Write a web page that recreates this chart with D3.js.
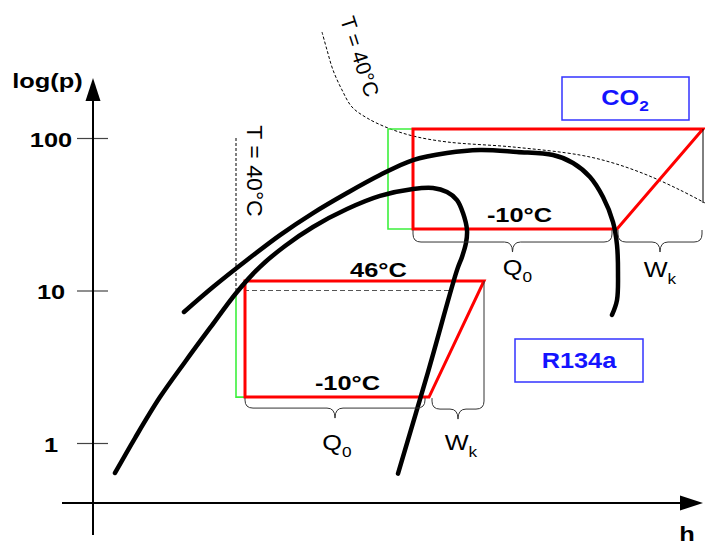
<!DOCTYPE html>
<html><head><meta charset="utf-8">
<script src="https://cdn.jsdelivr.net/npm/d3@7"></script>
<style>body{margin:0;background:#fff}svg{display:block}</style>
</head><body>
<svg id="c" width="705" height="551"></svg>
<script>
// ---------------- data ----------------
const tickValues = [1, 10, 100];
// R134a saturation dome (h, p)
const r134aDomeH = [22, 42, 67, 92, 117, 144, 167, 192, 220, 254, 287, 320, 340, 354, 364, 370, 374, 373, 369, 364, 335, 305];
const r134aDomeP = [0.636, 1.078, 2.0, 3.4, 5.68, 9.78, 14.3, 19.6, 26.1, 34.2, 41.7, 46.3, 47.0, 44.2, 39.2, 32.2, 24.9, 20.5, 16.6, 13.6, 2.92, 0.63];
// CO2 saturation dome (h, p)
const co2DomeH = [91, 120, 154, 187, 220, 254, 287, 320, 354, 387, 424, 460, 480, 497, 510, 520, 524, 525, 524, 519];
const co2DomeP = [7.23, 10.54, 15.85, 23.1, 32.2, 43.6, 57.2, 71.7, 79.7, 83.4, 80.9, 77.3, 68.6, 55.5, 41.0, 28.1, 19.9, 13.0, 8.66, 6.91];
// isotherms T = 40 °C
const co2IsoH = [229, 234, 240, 249, 259, 274, 295, 320, 354, 420, 487, 520, 554, 587, 612];
const co2IsoP = [495.6, 377.6, 279.2, 206.5, 159.7, 135.3, 116.3, 103.1, 94.2, 87.3, 77.3, 68.6, 57.2, 45.6, 37.5];
const r134aIsoH = [143, 143, 357];
const r134aIsoP = [100, 10, 10];
// cycles
const r134aCycleH = [152, 391, 336, 152];
const r134aCycleP = [11.54, 11.54, 2.0, 2.0];
const co2CycleH = [320, 610, 524, 320];
const co2CycleP = [114.6, 114.6, 25.3, 25.3];
const r134aGreenH = [143, 143, 152];
const r134aGreenP = [10, 2.0, 2.0];
const co2GreenH = [320, 295, 295, 320];
const co2GreenP = [114.6, 114.6, 25.3, 25.3];
// braces: [h1, h2]
const r134aQ0 = [152, 332], r134aWk = [339, 391];
const co2Q0 = [320, 519], co2Wk = [525, 609];

// ---------------- drawing ----------------
const svg = d3.select("#c");
const x = d3.scaleLinear().domain([0, 609]).range([93, 702]);
const y = d3.scaleLog().domain([1, 100]).range([443, 138]);
const FONT = "'Liberation Sans', Arial, Helvetica, sans-serif";
const zip = (a, b) => a.map((v, i) => [v, b[i]]);
const smooth = d3.line().x(d => x(d[0])).y(d => y(d[1])).curve(d3.curveCatmullRom.alpha(0.5));
const straight = d3.line().x(d => x(d[0])).y(d => y(d[1]));

function label(txt, cx, cy, o = {}) {
  const t = svg.append("text")
    .attr("transform", `translate(${cx},${cy}) rotate(${o.rot || 0}) scale(${o.sx || 1.21},1)`)
    .attr("text-anchor", "middle")
    .attr("font-family", FONT)
    .attr("font-size", o.size || 21)
    .attr("font-weight", o.bold === false ? "normal" : "bold")
    .attr("fill", o.fill || "#000");
  if (o.dy) t.attr("dy", o.dy);
  if (o.sub) {
    t.append("tspan").text(txt);
    t.append("tspan").attr("font-size", o.subSize || 15).attr("dy", o.subDy || 7).text(o.sub);
  } else t.text(txt);
  return t;
}

// axes
const yAxis = d3.axisLeft(y).tickValues(tickValues).tickFormat(d3.format("d")).tickSize(16);
const ga = svg.append("g").attr("transform", `translate(${x(0)},0)`).call(yAxis);
ga.select(".domain").remove();
ga.selectAll(".tick line").attr("x1", 15).attr("x2", -16).attr("stroke", "#444").attr("stroke-width", 1.2);
ga.selectAll(".tick text")
  .attr("x", null).attr("dy", null)
  .attr("transform", "translate(-42,8) scale(1.21,1)")
  .attr("text-anchor", "middle")
  .attr("font-family", FONT).attr("font-size", 21).attr("font-weight", "bold").attr("fill", "#000");

svg.append("line").attr("x1", x(0)).attr("x2", x(0)).attr("y1", 535).attr("y2", 98)
  .attr("stroke", "#000").attr("stroke-width", 2);
svg.append("path").attr("d", `M${x(0)},78 L${x(0) - 7.5},101 L${x(0) + 7.5},101 Z`).attr("fill", "#000");
svg.append("line").attr("x1", x(-31)).attr("x2", 684).attr("y1", 503).attr("y2", 503)
  .attr("stroke", "#000").attr("stroke-width", 2);
svg.append("path").attr("d", `M703,503 L680,495.5 L680,510.5 Z`).attr("fill", "#000");
label("log(p)", 47.5, 88);
label("h", 687, 541);

// isotherms
svg.append("path").attr("d", smooth(zip(co2IsoH, co2IsoP))).attr("fill", "none")
  .attr("stroke", "#000").attr("stroke-width", 1).attr("stroke-dasharray", "3,2");
svg.append("path").attr("d", straight(zip(r134aIsoH.slice(0, 2), r134aIsoP.slice(0, 2)))).attr("fill", "none")
  .attr("stroke", "#000").attr("stroke-width", 1).attr("stroke-dasharray", "3,2");
svg.append("path").attr("d", straight(zip(r134aIsoH.slice(1), r134aIsoP.slice(1)))).attr("fill", "none")
  .attr("stroke", "#555").attr("stroke-width", 1.2).attr("stroke-dasharray", "5,3");
label("T = 40°C", 247, 171, { rot: 90, bold: false, size: 22, sx: 1.05 });
label("T = 40°C", 360, 56.5, { rot: 72, bold: false, size: 21, sx: 1.0, dy: "0.36em" });

// green lines
svg.append("path").attr("d", straight(zip(r134aGreenH, r134aGreenP))).attr("fill", "none")
  .attr("stroke", "#3cf03c").attr("stroke-width", 1.6);
svg.append("path").attr("d", straight(zip(co2GreenH, co2GreenP))).attr("fill", "none")
  .attr("stroke", "#3cf03c").attr("stroke-width", 1.6);

// red cycles
svg.append("path").attr("d", straight(zip(r134aCycleH, r134aCycleP)) + "Z").attr("fill", "none")
  .attr("stroke", "#ff0000").attr("stroke-width", 3).attr("stroke-linejoin", "miter");
svg.append("path").attr("d", straight(zip(co2CycleH, co2CycleP)) + "Z").attr("fill", "none")
  .attr("stroke", "#ff0000").attr("stroke-width", 3).attr("stroke-linejoin", "miter");

// domes
svg.append("path").attr("d", smooth(zip(co2DomeH, co2DomeP))).attr("fill", "none")
  .attr("stroke", "#000").attr("stroke-width", 4.5).attr("stroke-linecap", "round");
svg.append("path").attr("d", smooth(zip(r134aDomeH, r134aDomeP))).attr("fill", "none")
  .attr("stroke", "#000").attr("stroke-width", 4.5).attr("stroke-linecap", "round");

// braces
function brace(h, p, off, topL, topR) {
  const x1 = x(h[0]), x2 = x(h[1]), xc = (x1 + x2) / 2, r = 8;
  const y0 = y(p);
  const yTopL = topL != null ? y(topL) : y0 + 1, yTopR = topR != null ? y(topR) : y0 + 1;
  const ym = y0 + off, yt = y0 + off + 10;
  const d = `M${x1},${yTopL} L${x1},${ym - r} Q${x1},${ym} ${x1 + r},${ym} L${xc - r},${ym} Q${xc},${ym} ${xc},${yt}` +
    ` Q${xc},${ym} ${xc + r},${ym} L${x2 - r},${ym} Q${x2},${ym} ${x2},${ym - r} L${x2},${yTopR}`;
  svg.append("path").attr("d", d).attr("fill", "none").attr("stroke", "#333").attr("stroke-width", 1);
  return { xc, yt };
}
const b1 = brace(r134aQ0, 2.0, 11);
const b2 = brace(r134aWk, 2.0, 12, null, 11.54);
const b3 = brace(co2Q0, 25.3, 13);
const b4 = brace(co2Wk, 25.3, 13);
svg.append("line").attr("x1", x(co2Wk[1]) + 1).attr("x2", x(co2Wk[1]) + 1).attr("y1", y(114.6)).attr("y2", 203)
  .attr("stroke", "#000").attr("stroke-width", 1);

label("Q", b1.xc + 2, 450, { bold: false, size: 22, sub: "0", sx: 1.15 });
label("W", b2.xc + 3, 450, { bold: false, size: 22, sub: "k", sx: 1.15 });
label("Q", b3.xc + 5, 275, { bold: false, size: 22, sub: "0", sx: 1.15 });
label("W", b4.xc, 277, { bold: false, size: 22, sub: "k", sx: 1.15 });

// temperature labels
label("46°C", 378.5, 277);
label("-10°C", 347.5, 390);
label("-10°C", 519.5, 222);

// refrigerant boxes
svg.append("rect").attr("x", 562).attr("y", 77).attr("width", 127).attr("height", 43)
  .attr("fill", "#fff").attr("stroke", "#3333ff").attr("stroke-width", 1.5);
label("CO", 625, 105, { fill: "#1414ff", size: 22, sub: "2", subSize: 15, subDy: 6, sx: 1.15 });
svg.append("rect").attr("x", 515).attr("y", 339).attr("width", 128).attr("height", 43)
  .attr("fill", "#fff").attr("stroke", "#3333ff").attr("stroke-width", 1.5);
label("R134a", 579, 368, { fill: "#1414ff", size: 22, sx: 1.15 });
</script>
</body></html>
